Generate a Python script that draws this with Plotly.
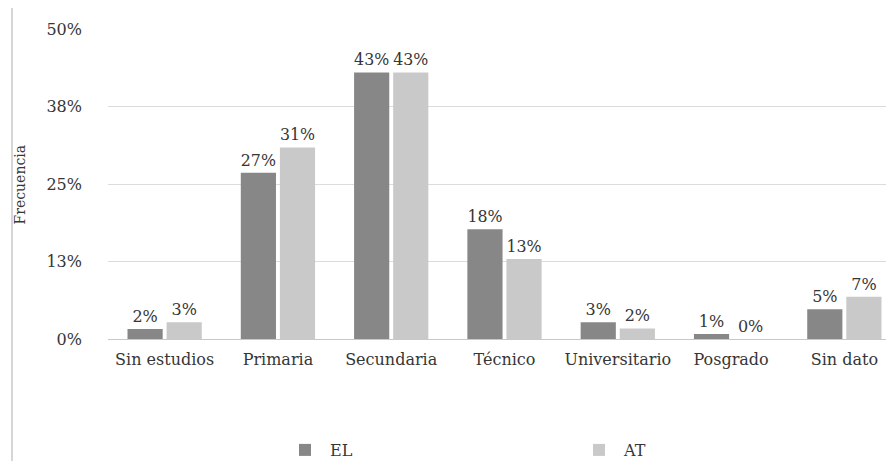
import plotly.graph_objects as go

categories = ["Sin estudios", "Primaria", "Secundaria", "Técnico", "Universitario", "Posgrado", "Sin dato"]
el_values = [1.6, 26.8, 43.0, 17.7, 2.7, 0.8, 4.8]
at_values = [2.7, 30.9, 43.0, 12.9, 1.7, 0.0, 6.8]
tick_vals = [0, 12.5, 25, 37.5, 50]
tick_text = ["0%", "13%", "25%", "38%", "50%"]

FONT = "DejaVu Serif"
TXT = "#363636"
FS = 16

fig = go.Figure()
fig.add_trace(go.Bar(
    x=categories, y=el_values, name="EL",
    marker=dict(color="#878787", line=dict(width=0)),
    texttemplate="%{y:.0f}%", textposition="outside",
    textfont=dict(family=FONT, size=FS, color=TXT),
    cliponaxis=False,
))
fig.add_trace(go.Bar(
    x=categories, y=at_values, name="AT",
    marker=dict(color="#c9c9c9", line=dict(width=0)),
    texttemplate="%{y:.0f}%", textposition="outside",
    textfont=dict(family=FONT, size=FS, color=TXT),
    cliponaxis=False,
))

# page body has an 8px offset; figure coords = viewport - 8
W, H = 894, 461
L, R, T = 100, 1, 21
B = H - 331
PW, PH = W - L - R, H - T - B

fig.update_layout(
    width=W, height=H,
    margin=dict(l=L, r=R, t=T, b=B, pad=0, autoexpand=False),
    paper_bgcolor="white", plot_bgcolor="white",
    barmode="group", bargap=0.31, bargroupgap=0.1,
    font=dict(family=FONT, size=FS, color=TXT),
    showlegend=True,
    legend=dict(
        orientation="h", x=(272 - L) / PW, xanchor="left", y=-(425 - 331) / PH, yanchor="top",
        font=dict(family=FONT, size=FS, color=TXT),
        entrywidth=239, entrywidthmode="pixels", itemwidth=40,
        bgcolor="rgba(0,0,0,0)",
    ),
)
fig.update_xaxes(
    type="category", range=[-0.5, 6.5], automargin=False,
    showgrid=False, showline=False, zeroline=False, ticks="",
    ticklabelstandoff=9,
    tickfont=dict(family=FONT, size=FS, color=TXT),
)
fig.update_yaxes(
    range=[0, 50], tickvals=tick_vals, ticktext=tick_text, automargin=False,
    showgrid=True, gridcolor="#dcdcdc", gridwidth=1,
    zeroline=True, zerolinecolor="#c8c8c8", zerolinewidth=1,
    showline=False, ticks="", ticklabelstandoff=25,
    tickfont=dict(family=FONT, size=FS, color=TXT),
)
# Frame line on left
fig.add_shape(type="line", xref="paper", yref="paper",
              x0=(4 - L) / PW, x1=(4 - L) / PW,
              y0=(H - B) / PH, y1=-(B) / PH,
              line=dict(color="#d6d6d6", width=2))
# Axis title
fig.add_annotation(
    text="Frecuencia", xref="paper", yref="paper",
    x=(11.5 - L) / PW, y=0.497, xanchor="center", yanchor="middle",
    textangle=-90, showarrow=False,
    font=dict(family=FONT, size=14, color=TXT),
)

fig.write_html("out.html")
